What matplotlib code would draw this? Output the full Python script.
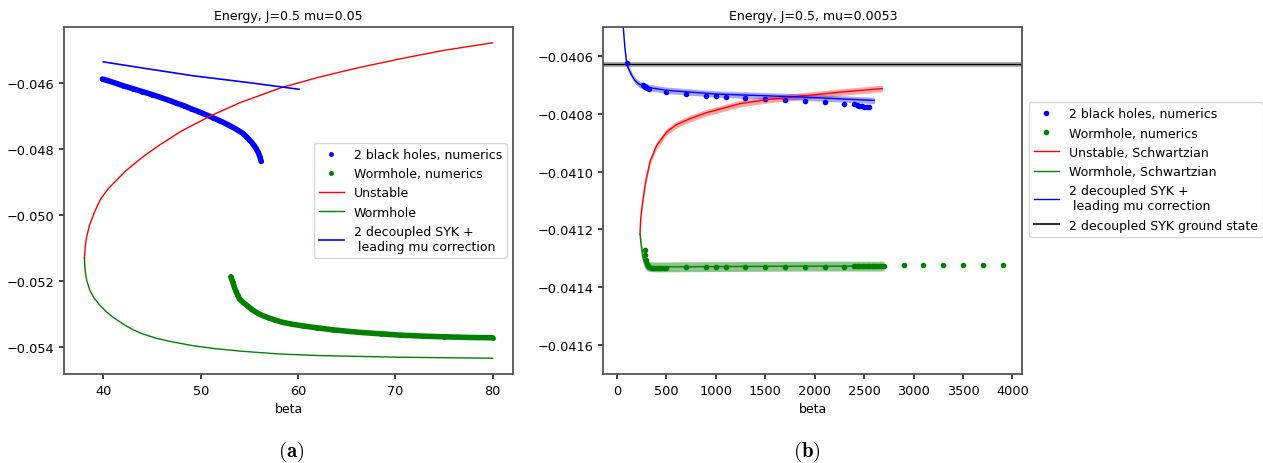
import matplotlib
matplotlib.use('Agg')
import matplotlib.pyplot as plt
import matplotlib.ticker as ticker
import numpy as np

# ---- panel (a): J=0.5, mu=0.05 ----
bh_beta_a = [39.9, 41.0, 42.0, 43.0, 44.0, 45.0, 45.8, 46.7, 47.5, 48.3, 49.0, 49.8, 50.6,
             51.3, 52.0, 52.7, 53.3, 53.8, 54.3, 54.7, 55.0, 55.3, 55.5, 55.7, 55.9, 56.1, 56.2]
bh_E_a = [-0.04588, -0.04598, -0.04608, -0.04617, -0.04626, -0.04635, -0.04643, -0.04652,
          -0.04661, -0.04669, -0.04678, -0.04687, -0.04697, -0.04706, -0.04715, -0.04725,
          -0.04734, -0.04743, -0.04752, -0.04763, -0.04772, -0.04782, -0.04790, -0.04799,
          -0.04810, -0.04825, -0.04837]

wh_beta_a = [53.1, 53.2, 53.3, 53.45, 53.6, 53.8, 54.0, 54.4, 54.8, 55.2, 55.7, 56.3, 57.0,
             57.7, 58.4, 59.4, 60.5, 62.0, 63.6, 65.0, 66.5, 68.5, 70.5, 72.8, 75.0, 77.5, 80.0]
wh_E_a = [-0.05187, -0.05196, -0.05204, -0.05218, -0.05230, -0.05243, -0.05255, -0.05266,
          -0.05275, -0.05285, -0.05295, -0.05304, -0.05312, -0.05319, -0.05325, -0.05331,
          -0.05336, -0.05342, -0.05348, -0.05352, -0.05356, -0.05360, -0.05364, -0.05367,
          -0.05369, -0.05371, -0.05372]

unst_beta_a = [38.05, 38.12, 38.25, 38.56, 39.1, 39.7, 40.5, 41.47, 42.34, 44.0, 45.76, 48.0,
               50.91, 54.0, 58.28, 62.19, 66.0, 70.45, 75.0, 80.0]
unst_E_a = [-0.05130, -0.05100, -0.05070, -0.05032, -0.04990, -0.04952, -0.04920, -0.04891,
            -0.04865, -0.04825, -0.04788, -0.04746, -0.04701, -0.04660, -0.04614, -0.04582,
            -0.04555, -0.04527, -0.04501, -0.04478]

whth_beta_a = [38.05, 38.08, 38.15, 38.3, 38.6, 39.0, 39.6, 40.3, 41.0, 42.0, 43.0, 44.0,
               45.5, 47.0, 49.2, 51.5, 54.3, 58.0, 62.2, 70.45, 80.0]
whth_E_a = [-0.05130, -0.05150, -0.05175, -0.05200, -0.05228, -0.05250, -0.05272, -0.05293,
            -0.05310, -0.05330, -0.05347, -0.05360, -0.05374, -0.05384, -0.05396, -0.05405,
            -0.05413, -0.05421, -0.05426, -0.05431, -0.05434]

syk_beta_a = [40.0, 45.0, 49.2, 55.0, 60.1]
syk_E_a = [-0.04536, -0.04559, -0.04578, -0.04599, -0.04619]

# ---- panel (b): J=0.5, mu=0.0053 ----
bh_beta_b = [100, 260, 270, 280, 290, 300, 320, 500, 700, 900, 1000, 1100, 1300, 1500, 1700,
             1900, 2100, 2300, 2400, 2425, 2450, 2475, 2500, 2525, 2550]
bh_E_b = [-0.040624, -0.040700, -0.040704, -0.040707, -0.040709, -0.040711, -0.040714,
          -0.040725, -0.040733, -0.040739, -0.040740, -0.040743, -0.040747, -0.040750,
          -0.040753, -0.040756, -0.040761, -0.040765, -0.040768, -0.040770, -0.040772,
          -0.040773, -0.040775, -0.040776, -0.040778]

wh_beta_b = [280, 285, 290, 300, 310, 325, 350, 375, 400, 425, 450, 475, 500, 700, 900, 1000,
             1100, 1300, 1500, 1700, 1900, 2100, 2300, 2400, 2425, 2450, 2475, 2500, 2525,
             2550, 2575, 2600, 2625, 2650, 2675, 2700, 2900, 3100, 3300, 3500, 3700, 3900]
wh_E_b = [-0.041272, -0.041290, -0.041305, -0.041318, -0.041326, -0.041331, -0.041333,
          -0.041334, -0.041334, -0.041334, -0.041334, -0.041334, -0.041334, -0.041331,
          -0.041331, -0.041331, -0.041331, -0.041331, -0.041331, -0.041331, -0.041329,
          -0.041329, -0.041329, -0.041326, -0.041326, -0.041326, -0.041326, -0.041326,
          -0.041326, -0.041326, -0.041326, -0.041326, -0.041326, -0.041326, -0.041326,
          -0.041326, -0.041324, -0.041324, -0.041324, -0.041323, -0.041323, -0.041322]

unst_beta_b = [233, 236, 240, 250, 266, 290, 334, 400, 503, 600, 739, 900, 1245, 1500, 1920,
               2300, 2685]
unst_E_b = [-0.041216, -0.041190, -0.041165, -0.041130, -0.041090, -0.041035, -0.040965,
            -0.040910, -0.040863, -0.040838, -0.040817, -0.040797, -0.040765, -0.040752,
            -0.040737, -0.040724, -0.040713]

whth_beta_b = [233, 240, 250, 258, 266, 280, 300, 330, 402, 800, 1852, 2700]
whth_E_b = [-0.041216, -0.041240, -0.041268, -0.041288, -0.041302, -0.041316, -0.041325,
            -0.041329, -0.041330, -0.041329, -0.041327, -0.041327]

syk_beta_b = [55, 64, 81, 98, 115, 132, 150, 182, 220, 266, 350, 503, 1009, 1852, 2604]
syk_E_b = [-0.040400, -0.040505, -0.040575, -0.040624, -0.040643, -0.040655, -0.040668,
           -0.040685, -0.040697, -0.040704, -0.040711, -0.040719, -0.040732, -0.040742,
           -0.040754]

ground_E_b = -0.040629

# half widths of the shaded bands around the Schwartzian curves
band_unst = 0.0000115
band_wh = 0.000017
band_syk = 0.000011
band_ground = 0.0000085

plt.rcParams['font.size'] = 9
plt.rcParams['mathtext.fontset'] = 'cm'

fig = plt.figure(figsize=(12.63, 4.64), dpi=100)
ax1 = fig.add_axes([0.0507, 0.1918, 0.3555, 0.7479])
ax2 = fig.add_axes([0.4777, 0.1918, 0.3317, 0.7479])

for ax in (ax1, ax2):
    for sp in ax.spines.values():
        sp.set_color('#555555')
        sp.set_linewidth(1.3)
    ax.tick_params(color='#222222', width=1.2, labelsize=9.3)

# panel (a)
ax1.plot(bh_beta_a, bh_E_a, '-', color='b', lw=4, solid_capstyle='round')
ax1.plot(bh_beta_a, bh_E_a, '.', color='b', ms=5, label='2 black holes, numerics')
ax1.plot(wh_beta_a, wh_E_a, '-', color='g', lw=4, solid_capstyle='round')
ax1.plot(wh_beta_a, wh_E_a, '.', color='g', ms=5, label='Wormhole, numerics')
ax1.plot(unst_beta_a, unst_E_a, color='r', lw=1, label='Unstable')
ax1.plot(whth_beta_a, whth_E_a, color='g', lw=1, label='Wormhole')
ax1.plot(syk_beta_a, syk_E_a, color='b', lw=1.2, label='2 decoupled SYK +\n leading mu correction')
ax1.set_title('Energy, J=0.5 mu=0.05', fontsize=9)
ax1.set_xlabel('beta')
ax1.xaxis.set_major_locator(ticker.MultipleLocator(10))
ax1.yaxis.set_major_locator(ticker.MultipleLocator(0.002))
ax1.legend(loc='center right', fontsize=9)

# panel (b)
ax2.axhspan(ground_E_b - band_ground, ground_E_b + band_ground, color='gray', alpha=0.6, lw=0)
ax2.axhline(ground_E_b, color='k', lw=1)
ax2.plot(bh_beta_b, bh_E_b, '.', color='b', label='2 black holes, numerics')
ax2.plot(wh_beta_b, wh_E_b, '.', color='g', label='Wormhole, numerics')
ax2.fill_between(unst_beta_b, np.array(unst_E_b) - band_unst, np.array(unst_E_b) + band_unst,
                 color='r', alpha=0.35, lw=0)
ax2.plot(unst_beta_b, unst_E_b, color='r', lw=1, label='Unstable, Schwartzian')
ax2.fill_between(whth_beta_b, np.array(whth_E_b) - band_wh, np.array(whth_E_b) + band_wh,
                 color='g', alpha=0.45, lw=0)
ax2.plot(whth_beta_b, whth_E_b, color='g', lw=1, label='Wormhole, Schwartzian')
ax2.fill_between(syk_beta_b, np.array(syk_E_b) - band_syk, np.array(syk_E_b) + band_syk,
                 color='b', alpha=0.35, lw=0)
ax2.plot(syk_beta_b, syk_E_b, color='b', lw=1, label='2 decoupled SYK +\n leading mu correction')
ax2.plot([], [], color='#333333', lw=1.5, label='2 decoupled SYK ground state')
ax2.set_title('Energy, J=0.5, mu=0.0053', fontsize=9)
ax2.set_xlabel('beta')
ax2.set_xlim(-138, 4100)
ax2.set_ylim(-0.0417, -0.0405)
ax2.xaxis.set_major_locator(ticker.MultipleLocator(500))
ax2.yaxis.set_major_locator(ticker.MultipleLocator(0.0002))
ax2.legend(loc='upper left', bbox_to_anchor=(1.016, 0.783), borderaxespad=0, fontsize=9)

fig.text(0.2305, 0.026, r'$\mathbf{(a)}$', fontsize=15, ha='center', va='center')
fig.text(0.639, 0.026, r'$\mathbf{(b)}$', fontsize=15, ha='center', va='center')

fig.savefig('out.png', dpi=100)
